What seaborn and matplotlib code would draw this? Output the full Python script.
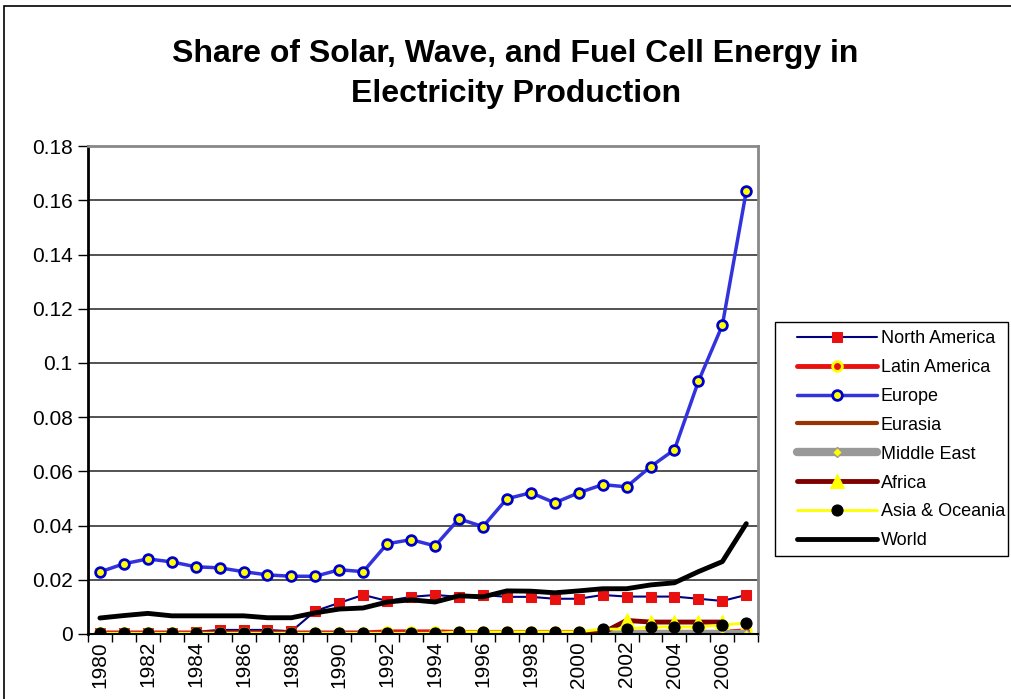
import numpy as np
import pandas as pd
import matplotlib
matplotlib.use('Agg')
import matplotlib.pyplot as plt
import seaborn as sns
from matplotlib.patches import Rectangle

years = list(range(1980, 2008))
nan = np.nan

north_america = [0.0003, 0.0003, 0.0003, 0.0003, 0.0008, 0.0015, 0.0015, 0.0015, 0.001, 0.0085,
                 0.0115, 0.0144, 0.0122, 0.0137, 0.0144, 0.0137, 0.0144, 0.0137, 0.0137, 0.013,
                 0.013, 0.0144, 0.0138, 0.0138, 0.0138, 0.013, 0.0122, 0.0144]
latin_america = [0.0004, 0.0004, 0.0004, 0.0004, 0.0004, 0.0004, 0.0004, 0.0004, 0.0004, 0.0004,
                 0.0004, 0.0004, 0.0008, 0.0008, 0.0008, 0.0006, 0.0006, 0.0006, 0.0006, 0.0006,
                 0.0006, 0.0006, 0.0006, 0.0006, 0.0006, 0.0006, 0.0006, 0.0012]
europe = [0.0229, 0.0259, 0.0277, 0.0266, 0.0248, 0.0244, 0.023, 0.0218, 0.0213, 0.0213,
          0.0237, 0.023, 0.0333, 0.0348, 0.0325, 0.0425, 0.0396, 0.0499, 0.0521, 0.0484,
          0.0521, 0.0551, 0.0543, 0.0617, 0.068, 0.0932, 0.1139, 0.1634]
eurasia = [nan] * 12 + [0.0] * 16
middle_east = [nan] * 21 + [0.0] * 7
africa = [0.0] * 21 + [0.0004, 0.005, 0.0044, 0.0044, 0.0044, 0.0044, nan]
asia_oceania = [0.0003] * 15 + [0.0008, 0.0008, 0.0008, 0.0008, 0.0008, 0.0008, 0.0018,
                                0.0018, 0.0026, 0.0026, 0.0026, 0.0033, 0.0041]
world = [0.0059, 0.0068, 0.0076, 0.0067, 0.0067, 0.0067, 0.0067, 0.006, 0.006, 0.0078,
         0.0092, 0.0096, 0.0118, 0.0126, 0.0118, 0.0141, 0.0137, 0.0159, 0.0158, 0.0152,
         0.0159, 0.0167, 0.0167, 0.0181, 0.0189, 0.023, 0.0267, 0.0407]

series = [
    ('North America', north_america, dict(color='#000080', lw=1.5, marker='s', ms=7,
                                          mfc='#e8110f', mec='#e8110f')),
    ('Latin America', latin_america, dict(color='#e8110f', lw=3.5, marker='o', ms=7,
                                          mfc='#e8110f', mec='#ffff00', mew=2)),
    ('Europe', europe, dict(color='#3333dd', lw=2.5, marker='o', ms=7,
                            mfc='#ffff00', mec='#0000cc', mew=2)),
    ('Eurasia', eurasia, dict(color='#993300', lw=3)),
    ('Middle East', middle_east, dict(color='#999999', lw=6, marker='D', ms=5,
                                      mfc='#ffff00', mec='#999999', mew=1)),
    ('Africa', africa, dict(color='#800000', lw=3.5, marker='^', ms=10,
                            mfc='#ffff00', mec='#ffff00')),
    ('Asia & Oceania', asia_oceania, dict(color='#ffff00', lw=2, marker='o', ms=8,
                                          mfc='black', mec='black')),
    ('World', world, dict(color='black', lw=3.5)),
]

sns.set_style('white')
plt.rcParams['font.family'] = ['Liberation Sans', 'DejaVu Sans']
plt.rcParams['text.color'] = 'black'
plt.rcParams['xtick.color'] = 'black'
plt.rcParams['ytick.color'] = 'black'

fig = plt.figure(figsize=(10.11, 6.99), dpi=100)
ax = fig.add_axes([0.087, 0.093, 0.663, 0.698])

x = np.arange(len(years))
for name, vals, st in series:
    sns.lineplot(x=x, y=vals, ax=ax, label=name, estimator=None, **st)

ax.set_xlim(-0.5, len(years) - 0.5)
ax.set_ylim(0, 0.18)
ax.set_yticks(np.arange(0, 0.181, 0.02))
ax.set_yticklabels(['0'] + ['%g' % v for v in np.arange(0.02, 0.181, 0.02)], fontsize=15)
ax.yaxis.grid(True, color='#444444', lw=1.3)
ax.xaxis.grid(False)

ax.set_xticks(x[::2])
ax.set_xticklabels([str(y) for y in years[::2]], rotation=90, fontsize=15)
ax.tick_params(axis='x', which='major', length=0, pad=5)
ax.set_xticks(np.arange(-0.5, len(years), 1), minor=True)
ax.tick_params(axis='x', which='minor', length=6, width=1, color='black', direction='out', bottom=True)
ax.tick_params(axis='y', length=7, width=1, color='black', direction='out', left=True, pad=4)

for side in ['top', 'right']:
    ax.spines[side].set_color('#888888')
    ax.spines[side].set_linewidth(2)
ax.spines['left'].set_color('black')
ax.spines['left'].set_linewidth(2)
ax.spines['bottom'].set_color('black')
ax.spines['bottom'].set_linewidth(1.5)

fig.text(0.51, 1 - 74 / 699, 'Share of Solar, Wave, and Fuel Cell Energy in\nElectricity Production',
         ha='center', va='center', fontsize=23, fontweight='bold', linespacing=1.45, color='black')

leg = ax.legend(loc='upper left', bbox_to_anchor=(797 / 1011, 1 - 330 / 699), bbox_transform=fig.transFigure,
                borderaxespad=0, fontsize=13, handlelength=4.43, labelspacing=0.66,
                frameon=False, borderpad=0, handletextpad=0.22)

# legend frame and outer chart border
fig.patches.append(Rectangle((775 / 1011, 1 - 556 / 699), 233 / 1011, 234 / 699, transform=fig.transFigure,
                             fill=False, edgecolor='black', lw=1))
fig.patches.append(Rectangle((4 / 1011, -0.2), 1.2, 1.2 - 6 / 699, transform=fig.transFigure,
                             fill=False, edgecolor='black', lw=1.2, zorder=-1))

fig.savefig('out.png', dpi=100)
